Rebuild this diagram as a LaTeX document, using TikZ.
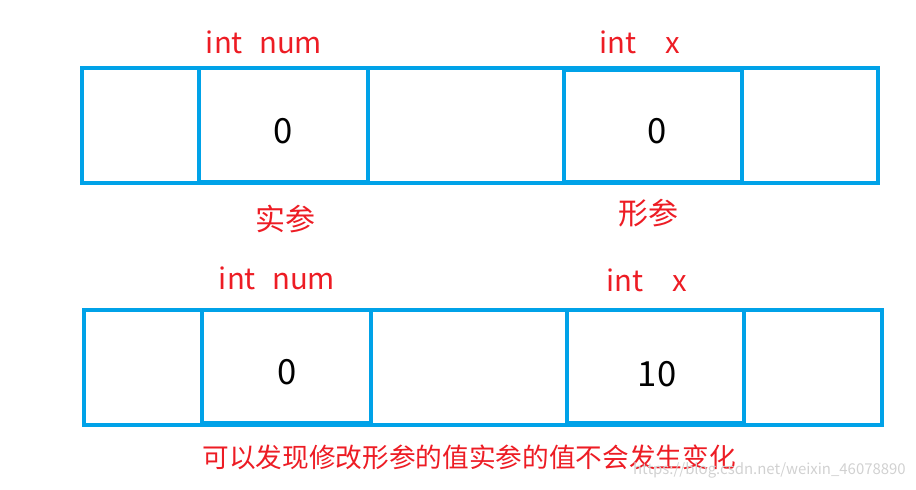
\documentclass[tikz,border=0pt]{standalone}
\usepackage{fontspec}
\setmainfont{Noto Sans CJK SC}
\definecolor{pred}{RGB}{237,28,36}
\definecolor{pblue}{RGB}{0,162,232}
\tikzset{
  cellline/.style={draw=pblue, line width=2.6pt},
  varlabel/.style={text=pred, font=\fontsize{22}{25}\selectfont, anchor=base, inner sep=0pt},
  vallabel/.style={text=black, font=\fontsize{26}{29}\selectfont, anchor=base, inner sep=0pt},
  cnlabel/.style={text=pred, font=\fontsize{22.5}{26}\selectfont, inner sep=0pt},
  note/.style={text=pred, font=\fontsize{20}{24}\selectfont, inner sep=0pt},
  wmark/.style={text=black!18, font=\fontsize{11.2}{13}\selectfont, inner sep=0pt, anchor=east}
}
\begin{document}
\begin{tikzpicture}[x=0.75pt, y=-0.75pt]
\useasboundingbox (0,0) rectangle (916,489);
% top row
\draw[cellline] (82,68) rectangle (878,183);
\draw[cellline] (199,68) rectangle (368,182);
\draw[cellline] (564,70) rectangle (742,182);
\node[varlabel] (tnum) at (264,53) {int\hspace{0.55em}num};
\node[varlabel] (tx) at (640,53) {int\hspace{1em}x};
\node[vallabel] (tv1) at (283,143) {0};
\node[vallabel] (tv2) at (657,143) {0};
\node[cnlabel] (shican) at (285,219) {实参};
\node[cnlabel] (xingcan) at (648,213) {形参};
% bottom row
\draw[cellline] (84,310) rectangle (882,425);
\draw[cellline] (202,310) rectangle (371,423);
\draw[cellline] (567,310) rectangle (744,423);
\node[varlabel] (bnum) at (277,289) {int\hspace{0.55em}num};
\node[varlabel] (bx) at (647,291) {int\hspace{1em}x};
\node[vallabel] (bv1) at (287,384) {0};
\node[vallabel] (bv2) at (657,386) {10};
\node[note] (sentence) at (469,457) {可以发现修改形参的值实参的值不会发生变化};
\node[wmark] (wm) at (906,470) {https://blog.csdn.net/weixin\_46078890};
\end{tikzpicture}
\end{document}
